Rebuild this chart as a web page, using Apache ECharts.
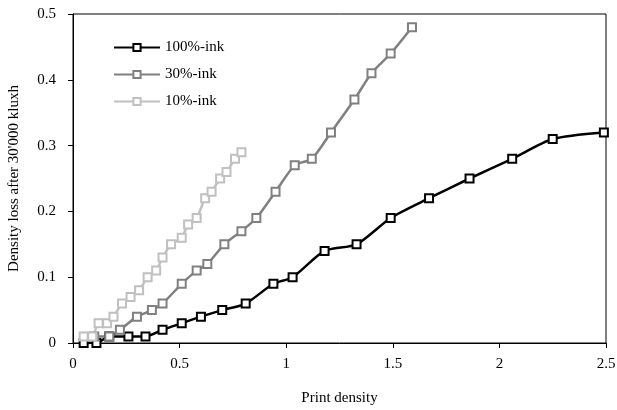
<!DOCTYPE html>
<html>
<head>
<meta charset="utf-8">
<script src="https://cdn.jsdelivr.net/npm/echarts@6/dist/echarts.min.js"></script>
<style>
  html, body { margin: 0; padding: 0; background: #fff; }
  #chart { width: 617px; height: 410px; }
</style>
</head>
<body>
<div id="chart"></div>
<script>
// print density (x) and density loss (y) per ink coverage
var ink100X = [0.05, 0.11, 0.17, 0.26, 0.34, 0.42, 0.51, 0.60, 0.70, 0.81, 0.94, 1.03, 1.18, 1.33, 1.49, 1.67, 1.86, 2.06, 2.25, 2.49];
var ink100Y = [0, 0, 0.01, 0.01, 0.01, 0.02, 0.03, 0.04, 0.05, 0.06, 0.09, 0.10, 0.14, 0.15, 0.19, 0.22, 0.25, 0.28, 0.31, 0.32];

var ink30X = [0.10, 0.17, 0.22, 0.30, 0.37, 0.42, 0.51, 0.58, 0.63, 0.71, 0.79, 0.86, 0.95, 1.04, 1.12, 1.21, 1.32, 1.40, 1.49, 1.59];
var ink30Y = [0.01, 0.01, 0.02, 0.04, 0.05, 0.06, 0.09, 0.11, 0.12, 0.15, 0.17, 0.19, 0.23, 0.27, 0.28, 0.32, 0.37, 0.41, 0.44, 0.48];

var ink10X = [0.05, 0.09, 0.12, 0.16, 0.19, 0.23, 0.27, 0.31, 0.35, 0.39, 0.42, 0.46, 0.51, 0.54, 0.58, 0.62, 0.65, 0.69, 0.72, 0.76, 0.79];
var ink10Y = [0.01, 0.01, 0.03, 0.03, 0.04, 0.06, 0.07, 0.08, 0.10, 0.11, 0.13, 0.15, 0.16, 0.18, 0.19, 0.22, 0.23, 0.25, 0.26, 0.28, 0.29];

var seriesNames = ['100%-ink', '30%-ink', '10%-ink'];
var seriesColors = ['#000000', '#808080', '#c0c0c0'];

var pairs = function(xs, ys) {
  return xs.map(function(x, i) { return [x, ys[i]]; });
};

var chart = echarts.init(document.getElementById('chart'));
var font = '"Liberation Serif", "Times New Roman", serif';

var makeSeries = function(i, data) {
  return {
    name: seriesNames[i],
    type: 'line',
    data: data,
    smooth: 0.25,
    symbol: 'emptyRect',
    symbolSize: 8,
    lineStyle: { color: seriesColors[i], width: 2.5 },
    itemStyle: { color: seriesColors[i], borderColor: seriesColors[i], borderWidth: 2 },
    emphasis: { disabled: true },
    animation: false
  };
};

var option = {
  backgroundColor: '#fff',
  textStyle: { fontFamily: font },
  grid: {
    left: 73, right: 11, top: 14, bottom: 67,
    containLabel: false,
    outerBoundsMode: 'none',
    show: true, borderColor: '#000', borderWidth: 1
  },
  legend: {
    orient: 'vertical',
    left: 108, top: 35,
    itemWidth: 46, itemHeight: 9,
    itemGap: 12,
    textStyle: { fontFamily: font, fontSize: 15, color: '#000' },
    data: seriesNames
  },
  xAxis: {
    type: 'value',
    min: 0, max: 2.5, interval: 0.5,
    name: 'Print density',
    nameLocation: 'middle',
    nameGap: 48,
    nameTextStyle: { fontFamily: font, fontSize: 15, color: '#000' },
    axisLine: { onZero: false, lineStyle: { color: '#000' } },
    axisTick: { length: 5, lineStyle: { color: '#000' } },
    axisLabel: { fontFamily: font, fontSize: 15, color: '#000', margin: 14 },
    splitLine: { show: false }
  },
  yAxis: {
    type: 'value',
    min: 0, max: 0.5, interval: 0.1,
    name: "Density loss after 30'000 kluxh",
    nameLocation: 'middle',
    nameGap: 51,
    nameTextStyle: { fontFamily: font, fontSize: 15, color: '#000' },
    axisLine: { show: true, lineStyle: { color: '#000' } },
    axisTick: { show: true, length: 5, lineStyle: { color: '#000' } },
    axisLabel: { fontFamily: font, fontSize: 15, color: '#000', margin: 17 },
    splitLine: { show: false }
  },
  series: [
    makeSeries(0, pairs(ink100X, ink100Y)),
    makeSeries(1, pairs(ink30X, ink30Y)),
    makeSeries(2, pairs(ink10X, ink10Y))
  ]
};

option && chart.setOption(option);
</script>
</body>
</html>
